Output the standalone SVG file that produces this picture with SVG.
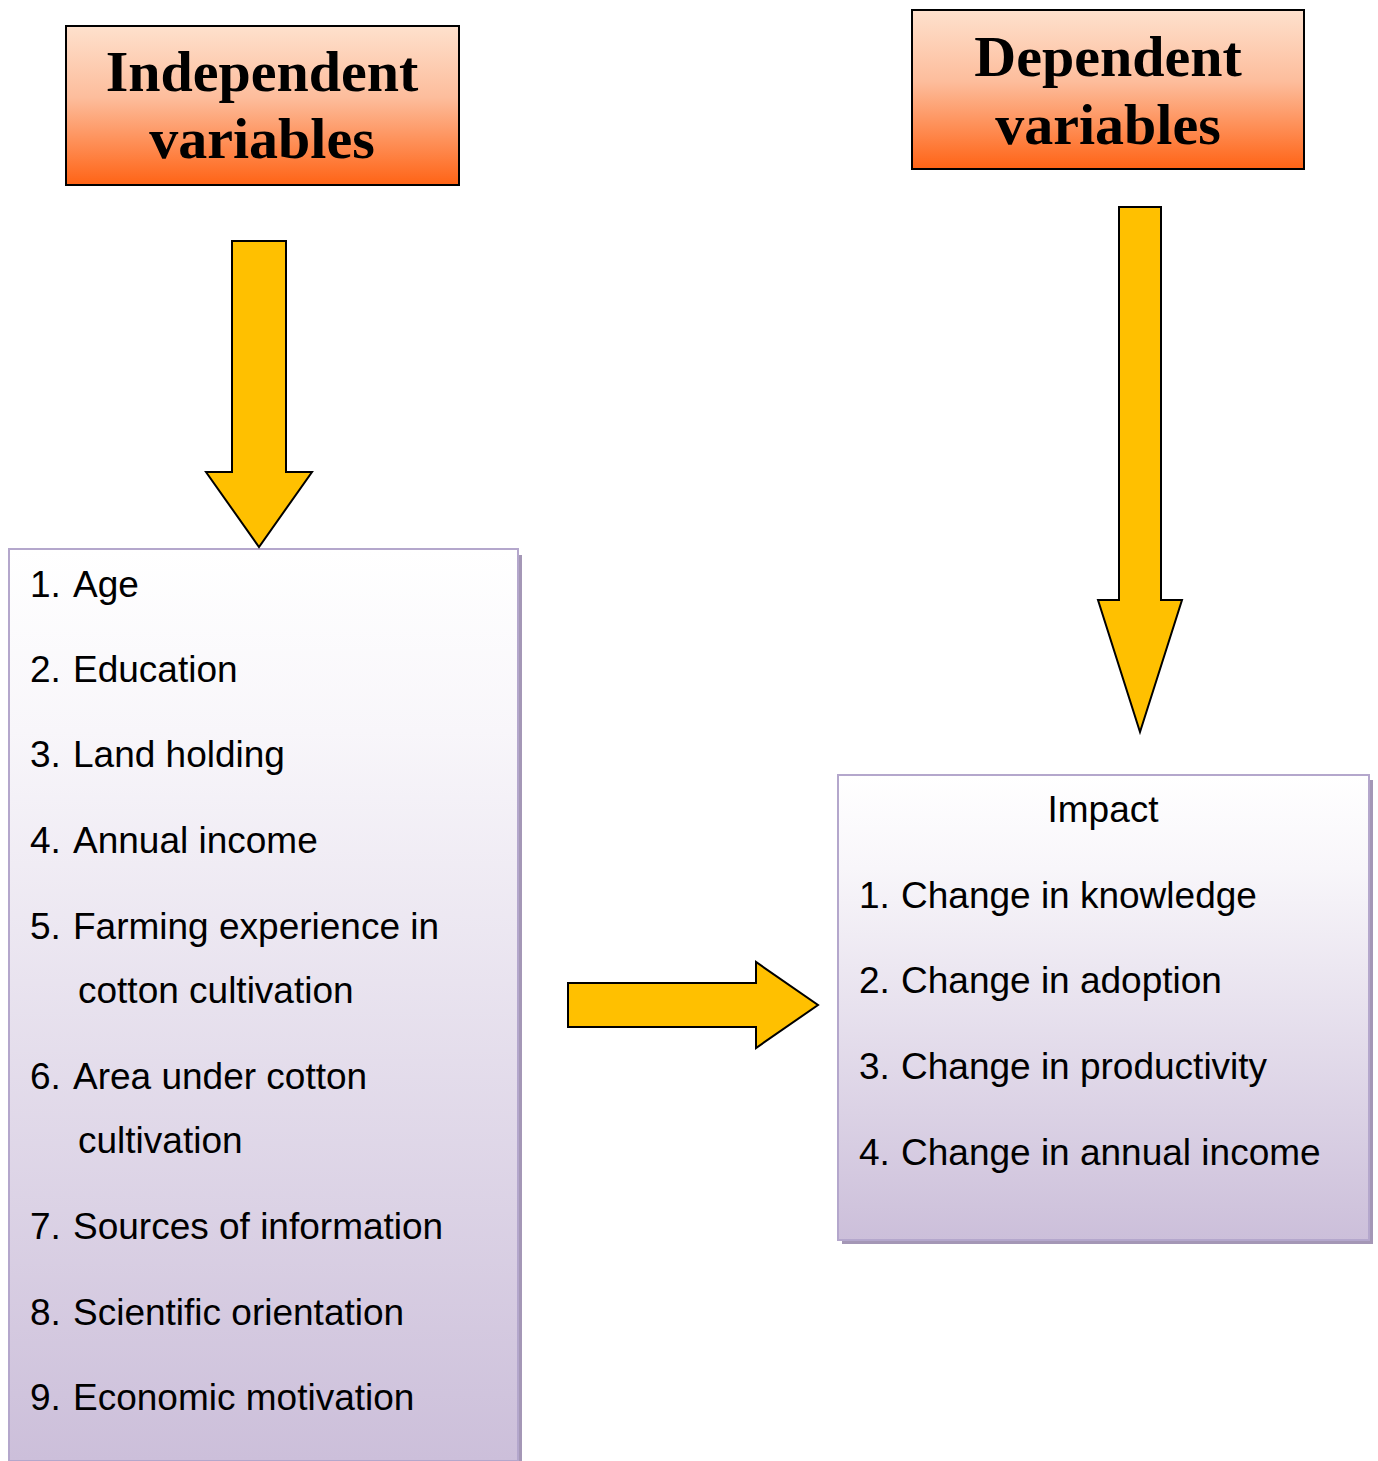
<svg xmlns="http://www.w3.org/2000/svg" width="1378" height="1461" viewBox="0 0 1378 1461">
<defs>
<linearGradient id="hdr" x1="0" y1="0" x2="0" y2="1">
<stop offset="0" stop-color="#fee1cd"/>
<stop offset="0.45" stop-color="#fdbd9c"/>
<stop offset="1" stop-color="#ff6315"/>
</linearGradient>
<linearGradient id="lst" x1="0" y1="0" x2="0" y2="1">
<stop offset="0" stop-color="#ffffff"/>
<stop offset="0.2" stop-color="#f8f6fa"/>
<stop offset="1" stop-color="#ccbfda"/>
</linearGradient>
<style>
.hdr{fill:url(#hdr);stroke:#000;stroke-width:2}
.htxt{font-family:"Liberation Serif","Times New Roman",serif;font-weight:bold;font-size:58px;fill:#000;text-anchor:middle}
.lst{fill:url(#lst);stroke:#b4a7cc;stroke-width:2}
.shd{fill:#a497b6}
.txt{font-family:"Liberation Sans",Arial,sans-serif;font-size:37px;fill:#000}
.arr{fill:#ffc000;stroke:#000;stroke-width:2;stroke-linejoin:miter}
</style>
</defs>
<rect width="1378" height="1461" fill="#ffffff"/>
<g id="independent-header">
<rect class="hdr" x="66" y="26" width="393" height="159"/>
<text class="htxt" x="262" y="91">Independent</text>
<text class="htxt" x="262" y="158">variables</text>
</g>
<g id="dependent-header">
<rect class="hdr" x="912" y="10" width="392" height="159"/>
<text class="htxt" x="1108" y="76">Dependent</text>
<text class="htxt" x="1108" y="144">variables</text>
</g>
<g id="independent-list">
<rect class="shd" x="518" y="555" width="4" height="906"/>
<rect class="lst" x="9" y="549" width="509" height="912"/>
<g class="txt">
<text x="30" y="597">1.</text><text x="73" y="597">Age</text>
<text x="30" y="682">2.</text><text x="73" y="682">Education</text>
<text x="30" y="767">3.</text><text x="73" y="767">Land holding</text>
<text x="30" y="853">4.</text><text x="73" y="853">Annual income</text>
<text x="30" y="939">5.</text><text x="73" y="939">Farming experience in</text>
<text x="78" y="1003">cotton cultivation</text>
<text x="30" y="1089">6.</text><text x="73" y="1089">Area under cotton</text>
<text x="78" y="1153">cultivation</text>
<text x="30" y="1239">7.</text><text x="73" y="1239">Sources of information</text>
<text x="30" y="1325">8.</text><text x="73" y="1325">Scientific orientation</text>
<text x="30" y="1410">9.</text><text x="73" y="1410">Economic motivation</text>
</g>
</g>
<g id="impact-list">
<rect class="shd" x="842" y="780" width="531" height="464"/>
<rect class="lst" x="838" y="775" width="531" height="465"/>
<g class="txt">
<text x="1103" y="822" text-anchor="middle">Impact</text>
<text x="859" y="908">1.</text><text x="901" y="908">Change in knowledge</text>
<text x="859" y="993">2.</text><text x="901" y="993">Change in adoption</text>
<text x="859" y="1079">3.</text><text x="901" y="1079">Change in productivity</text>
<text x="859" y="1165">4.</text><text x="901" y="1165">Change in annual income</text>
</g>
</g>
<g id="connectors">
<path class="arr" d="M232,241 H286 V472 H312 L259,547 L206,472 H232 Z"/>
<path class="arr" d="M1119,207 H1161 V600 H1182 L1140,732 L1098,600 H1119 Z"/>
<path class="arr" d="M568,983 H756 V962 L818,1005 L756,1048 V1027 H568 Z"/>
</g>
</svg>
